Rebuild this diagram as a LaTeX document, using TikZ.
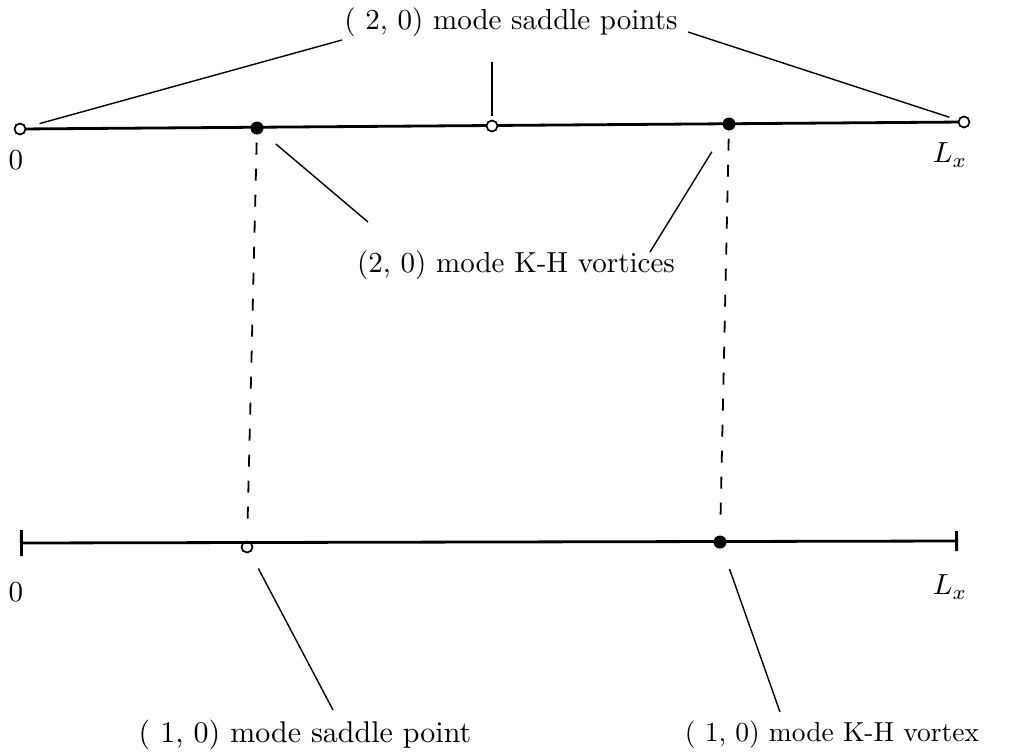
\documentclass[tikz,border=0pt]{standalone}
\usetikzlibrary{arrows.meta}
\usepackage{graphicx}
\newcommand{\lab}[2][2.9]{\scalebox{#1}{\fontsize{10}{12}\selectfont #2}}
\begin{document}
\begin{tikzpicture}[x=1pt,y=-1pt,
  axis/.style={line width=2.8pt},
  leader/.style={line width=1.4pt},
  guide/.style={line width=1.8pt, dash pattern=on 12pt off 14pt},
  opendot/.style={circle, draw, line width=1.7pt, fill=white, inner sep=0pt, minimum size=11pt},
  fulldot/.style={circle, fill, inner sep=0pt, minimum size=13pt},
  lab/.style={inner sep=0pt}]
\path[use as bounding box] (0,0) rectangle (1018,755);

% top axis
\coordinate (ta) at (20,129);
\coordinate (tb) at (964,122);
\draw[axis] (ta) -- (tb);
\node[opendot] (s1) at (20,129) {};
\node[fulldot] (v1) at (257,128) {};
\node[opendot] (s2) at (492,126) {};
\node[fulldot] (v2) at (729,124) {};
\node[opendot] (s3) at (964,122) {};
\node[lab] (t0) at (16,160) {\lab{0}};
\node[lab] (tL) at (950,155) {\lab{$L_x$}};

% bottom axis
\node[opendot] (bs) at (247,547) {};
\coordinate (ba) at (20,543);
\coordinate (bb) at (958,541);
\draw[axis, {Bar[width=26pt,line width=2.8pt]}-{Bar[width=20pt,line width=2.8pt]}] (ba) -- (bb);
\node[fulldot] (bv) at (720,542) {};
\node[lab] (b0) at (16,592) {\lab{0}};
\node[lab] (bL) at (950,587) {\lab{$L_x$}};

% dashed guides
\draw[guide, shorten <=8pt, shorten >=14pt] (v1) -- (bs);
\draw[guide, shorten <=8pt, shorten >=10pt] (v2) -- (bv);

% labels
\node[lab] (t2) at (511,22) {\lab{( 2, 0) mode saddle points}};
\node[lab] (kh) at (516,265) {\lab{(2, 0) mode K-H vortices}};
\node[lab] (bsl) at (305,735) {\lab[3.0]{( 1, 0) mode saddle point}};
\node[lab] (bvl) at (832,735) {\lab[2.75]{( 1, 0) mode K-H vortex}};

% leader free ends
\coordinate (tl) at (342,40);
\coordinate (tr) at (688,32);
\coordinate (tm) at (492,62);
\coordinate (kl) at (368,222);
\coordinate (kr) at (650,252);
\coordinate (sl) at (333,710);
\coordinate (vl) at (780,712);

\draw[leader, shorten <=14pt] (s1) -- (tl);
\draw[leader, shorten <=9pt] (s3) -- (tr);
\draw[leader, shorten <=4pt] (s2) -- (tm);
\draw[leader, shorten <=18pt] (v1) -- (kl);
\draw[leader, shorten <=26pt] (v2) -- (kr);
\draw[leader, shorten <=18pt] (bs) -- (sl);
\draw[leader, shorten <=22pt] (bv) -- (vl);
\end{tikzpicture}
\end{document}
